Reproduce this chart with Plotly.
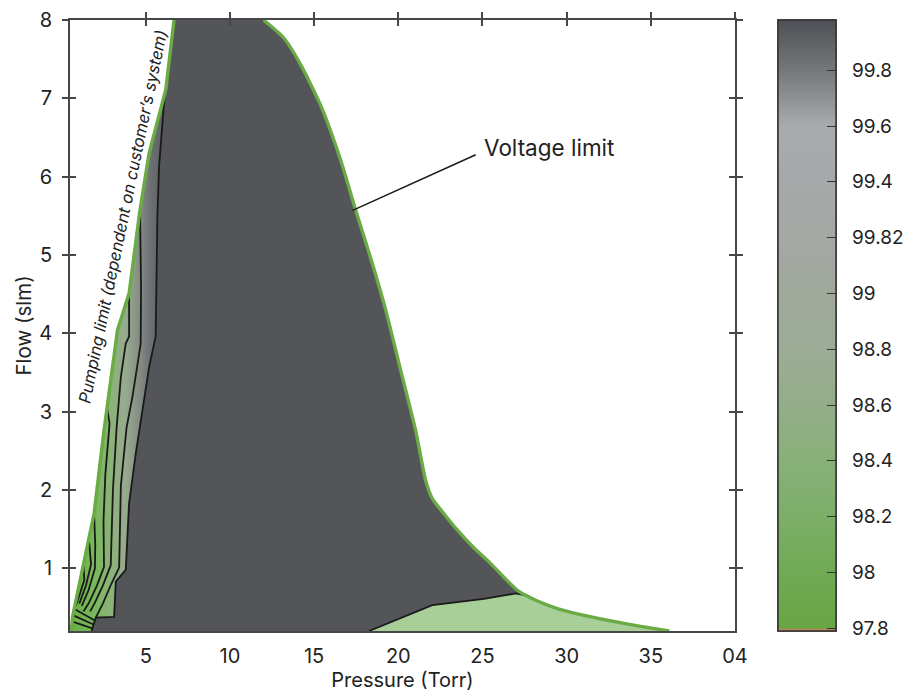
import plotly.graph_objects as go

# ---------------- data ----------------
x_tick_vals = [5, 10, 15, 20, 25, 30, 35, 40]
x_tick_text = ["5", "10", "15", "20", "25", "30", "35", "04"]
y_tick_vals = [1, 2, 3, 4, 5, 6, 7, 8]

# Pumping limit (left green boundary)
pump_x = [0.58, 0.65, 0.94, 1.44, 1.93, 2.52, 3.32, 4.01, 4.64, 5.20, 6.19, 6.68]
pump_y = [0.20, 0.38, 0.68, 1.19, 1.70, 2.76, 4.04, 4.51, 5.55, 6.30, 7.11, 8.00]

# Voltage limit (right green boundary)
volt_x = [12.0, 13.2, 14.2, 15.39, 16.58, 17.47, 18.36, 19.25, 20.14, 21.03, 21.62,
          22.02, 22.7, 23.5, 24.5, 25.49, 26.3, 27.07, 28.2, 29.45, 30.9, 32.42, 34.4, 36.1]
volt_y = [8.0, 7.77, 7.43, 6.91, 6.21, 5.57, 4.96, 4.30, 3.53, 2.76, 2.125,
          1.89, 1.70, 1.49, 1.26, 1.06, 0.88, 0.72, 0.59, 0.487, 0.405, 0.337, 0.26, 0.20]

# Lower-efficiency region (bottom right) boundary
low_x = [18.26, 20.14, 22.02, 25.09, 26.97, 27.8]
low_y = [0.20, 0.36, 0.53, 0.61, 0.68, 0.645]

# Contour lines in the left gradient zone
c1_x = [6.13, 5.79, 5.69, 5.59, 5.20, 4.60, 4.41, 4.01, 3.81, 3.22, 3.12, 2.03, 1.83, 1.78]
c1_y = [7.06, 6.13, 5.49, 3.96, 3.57, 2.76, 2.47, 1.83, 0.98, 0.83, 0.38, 0.37, 0.23, 0.20]
c2_x = [4.66, 4.72, 4.70, 4.21, 3.86, 3.52, 3.42, 2.95, 2.45, 2.03]
c2_y = [5.55, 4.60, 3.87, 3.19, 2.80, 2.05, 1.01, 0.80, 0.55, 0.37]
c3_x = [4.01, 4.01, 3.81, 3.52, 3.27, 3.05, 2.92, 2.45, 1.95, 1.70]
c3_y = [4.51, 3.96, 3.87, 3.44, 2.80, 2.00, 1.04, 0.78, 0.55, 0.45]
c4_x = [2.70, 2.85, 2.60, 2.49, 2.52, 2.10, 1.60, 1.30]
c4_y = [3.05, 2.85, 2.20, 1.61, 1.02, 0.78, 0.55, 0.45]
c5_x = [1.93, 2.00, 1.98, 1.60, 1.20]
c5_y = [1.70, 1.30, 1.00, 0.72, 0.52]
c6_x = [1.62, 1.75, 1.45, 1.05]
c6_y = [1.38, 1.05, 0.78, 0.55]
c7_x = [1.30, 1.35, 1.00, 0.85]
c7_y = [1.05, 0.85, 0.62, 0.52]
c8_x = [0.76, 2.00]
c8_y = [0.48, 0.33]
c9_x = [0.70, 1.93]
c9_y = [0.40, 0.28]
c10_x = [0.65, 1.87]
c10_y = [0.32, 0.23]

# Colour bar
cb_min, cb_max = 97.79, 99.98
cb_tick_vals = [97.8, 98.0, 98.2, 98.4, 98.6, 98.8, 99.0, 99.2, 99.4, 99.6, 99.8]
cb_tick_text = ["97.8", "98", "98.2", "98.4", "98.6", "98.8", "99", "99.82", "99.4", "99.6", "99.8"]
cb_stop_vals = [97.79, 97.797, 97.80, 98.0, 98.2, 98.4, 98.6, 98.8, 99.0, 99.2, 99.4, 99.6, 99.8, 99.98]
cb_stop_cols = ["#b9855c", "#b9855c", "#67a643", "#70aa55", "#7dae68", "#88b079", "#93ae89",
                "#9cac95", "#a0a89c", "#a4a8a4", "#a6a8a9", "#a9aaac", "#76777b", "#4f5055"]

# ---------------- styling ----------------
FONT = "Inter, Liberation Sans, Arial, sans-serif"
DARK = "#545559"
GREEN = "#6aab46"
LIGHT_GREEN = "#a9cf98"
LINE = "#1a1a1a"
AXIS = "#47474a"
TXT = "#222222"

fig = go.Figure()

# main (high efficiency) region
fig.add_trace(go.Scatter(
    x=pump_x + volt_x, y=pump_y + volt_y, mode="lines", fill="toself",
    fillcolor=DARK, line=dict(width=0), hoverinfo="skip", showlegend=False))

# low region bottom right
lr_x = low_x + [vx for vx in volt_x if vx > low_x[-1]]
lr_y = low_y + [vy for vx, vy in zip(volt_x, volt_y) if vx > low_x[-1]]
fig.add_trace(go.Scatter(
    x=lr_x, y=lr_y, mode="lines", fill="toself", fillcolor=LIGHT_GREEN,
    line=dict(width=0), hoverinfo="skip", showlegend=False))
fig.add_trace(go.Scatter(
    x=low_x, y=low_y, mode="lines", line=dict(color=LINE, width=1.8),
    hoverinfo="skip", showlegend=False))

# left gradient region (between pumping limit and first contour)
gx = [px for px, py in zip(pump_x, pump_y) if py < c1_y[0]] + c1_x
gy = [py for py in pump_y if py < c1_y[0]] + c1_y
fig.add_trace(go.Scatter(
    x=gx, y=gy, mode="lines", fill="toself", line=dict(width=0),
    fillgradient=dict(type="horizontal", start=0.55, stop=6.2,
                      colorscale=[[0, "#69b044"], [0.26, "#7ab85c"], [0.43, "#8db27a"],
                                  [0.575, "#97aa8e"], [0.72, "#858d84"], [0.84, "#6d7072"],
                                  [1, "#5a5c60"]]),
    hoverinfo="skip", showlegend=False))

for cx, cy in [(c1_x, c1_y), (c2_x, c2_y), (c3_x, c3_y), (c4_x, c4_y), (c5_x, c5_y),
               (c6_x, c6_y), (c7_x, c7_y), (c8_x, c8_y), (c9_x, c9_y), (c10_x, c10_y)]:
    fig.add_trace(go.Scatter(x=cx, y=cy, mode="lines", line=dict(color=LINE, width=1.8),
                             hoverinfo="skip", showlegend=False))

# limits
fig.add_trace(go.Scatter(x=pump_x, y=pump_y, mode="lines", line=dict(color=GREEN, width=3.4),
                         hoverinfo="skip", showlegend=False))
fig.add_trace(go.Scatter(x=volt_x, y=volt_y, mode="lines",
                         line=dict(color=GREEN, width=3.4, shape="spline", smoothing=0.6),
                         hoverinfo="skip", showlegend=False))

# colour bar carriers (one for labels, one for the inner tick marks)
cb_scale = [[(v - cb_min) / (cb_max - cb_min), c] for v, c in zip(cb_stop_vals, cb_stop_cols)]
cb_scale[-1][0] = 1.0
cb_common = dict(x=1.0647, xanchor="left", y=0.5, yanchor="middle", len=1,
                 lenmode="fraction", thickness=58, thicknessmode="pixels",
                 xpad=0, ypad=0, outlinewidth=1.5, outlinecolor="#333",
                 tickvals=cb_tick_vals, ticktext=cb_tick_text)
fig.add_trace(go.Scatter(
    x=[None], y=[None], mode="markers", showlegend=False, hoverinfo="skip",
    marker=dict(color=[cb_min], cmin=cb_min, cmax=cb_max, colorscale=cb_scale, showscale=True,
                colorbar=dict(**cb_common, ticks="outside", ticklen=12,
                              tickcolor="rgba(0,0,0,0)",
                              tickfont=dict(family=FONT, size=19, color=TXT)))))
fig.add_trace(go.Scatter(
    x=[None], y=[None], mode="markers", showlegend=False, hoverinfo="skip",
    marker=dict(color=[cb_min], cmin=cb_min, cmax=cb_max, colorscale=cb_scale, showscale=True,
                colorbar=dict(**cb_common, ticks="inside", ticklen=9, tickwidth=1.2,
                              tickcolor="#333", showticklabels=False))))

# dummy traces so the overlay tick axes render
fig.add_trace(go.Scatter(x=[None], y=[None], xaxis="x2", yaxis="y2", showlegend=False, hoverinfo="skip"))
fig.add_trace(go.Scatter(x=[None], y=[None], xaxis="x3", yaxis="y2", showlegend=False, hoverinfo="skip"))

# annotations
fig.add_shape(type="line", x0=17.29, y0=5.57, x1=24.6, y1=6.28, xref="x", yref="y",
              line=dict(color=LINE, width=1.5))
fig.add_annotation(x=25.0, y=6.37, xref="x", yref="y", text="Voltage limit", showarrow=False,
                   xanchor="left", yanchor="middle", font=dict(family=FONT, size=22.5, color=TXT))
fig.add_annotation(x=3.61, y=5.49, xref="x", yref="y",
                   text="<i>Pumping limit (dependent on customer’s system)</i>",
                   showarrow=False, textangle=-78.3, xanchor="center", yanchor="middle",
                   font=dict(family=FONT, size=16.5, color=TXT))

common_x = dict(range=[0.5, 40], tickvals=x_tick_vals, showgrid=False, zeroline=False,
                automargin=False)
common_y = dict(range=[0.2, 8], tickvals=y_tick_vals, showgrid=False, zeroline=False,
                automargin=False)

fig.update_layout(
    width=906, height=692,
    margin=dict(l=70, r=171, t=20, b=61, autoexpand=False),
    paper_bgcolor="white", plot_bgcolor="white",
    font=dict(family=FONT, size=20, color=TXT),
    showlegend=False,
    xaxis=dict(**common_x, ticktext=x_tick_text, ticks="", showline=True, linecolor=AXIS,
               linewidth=1.8, mirror=True, ticklabelstandoff=6,
               tickfont=dict(family=FONT, size=20, color=TXT),
               title=dict(text="Pressure (Torr)", standoff=7,
                          font=dict(family=FONT, size=20, color=TXT))),
    xaxis2=dict(**common_x, overlaying="x", side="top", anchor="y", ticks="outside",
                ticklen=6, tickwidth=1.5, tickcolor=AXIS, showticklabels=False,
                showline=True, linecolor=AXIS, linewidth=1.8),
    xaxis3=dict(**common_x, overlaying="x", side="top", anchor="y", ticks="inside",
                ticklen=6, tickwidth=1.5, tickcolor=AXIS, showticklabels=False,
                showline=False),
    yaxis=dict(**common_y, ticks="outside", ticklen=6, tickwidth=1.5, tickcolor=AXIS,
               showline=True, linecolor=AXIS, linewidth=1.8, mirror="allticks",
               ticklabelstandoff=6, tickfont=dict(family=FONT, size=20, color=TXT),
               title=dict(text="Flow (slm)", standoff=2,
                          font=dict(family=FONT, size=20.5, color=TXT))),
    yaxis2=dict(**common_y, overlaying="y", anchor="x", ticks="inside", ticklen=6,
                tickwidth=1.5, tickcolor=AXIS, showticklabels=False, showline=True,
                linecolor=AXIS, linewidth=1.8, mirror="allticks"),
)

fig.write_html("out.html", config={"displayModeBar": False},
               post_script="document.body.style.margin='0';document.body.style.overflow='hidden';")
